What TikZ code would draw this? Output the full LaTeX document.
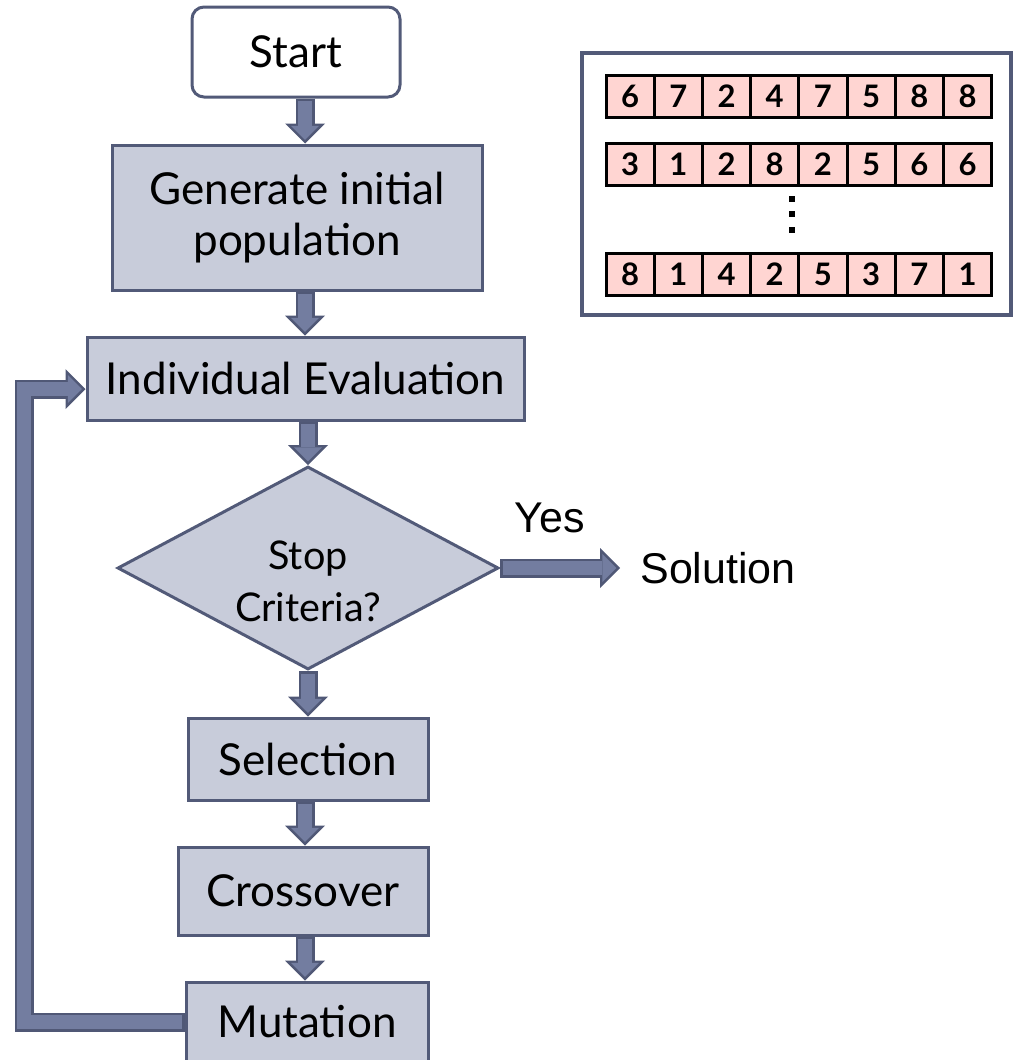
\documentclass[tikz,border=0pt]{standalone}
\usepackage{fontspec}
\setmainfont{Lato}
\newfontfamily\arialfont{Liberation Sans}
\usetikzlibrary{shapes.geometric,arrows.meta,backgrounds}

\definecolor{boxfill}{RGB}{200,204,218}
\definecolor{boxedge}{RGB}{82,90,120}
\definecolor{arrowfill}{RGB}{115,125,160}
\definecolor{arrowedge}{RGB}{80,88,118}
\definecolor{genefill}{RGB}{255,213,210}

\tikzset{
  stepbox/.style={draw=boxedge, fill=boxfill, line width=1.5pt, inner sep=0pt, align=center, font=\fontsize{22}{25.5}\selectfont},
  startbox/.style={stepbox, fill=white, rounded corners=6pt},
  testbox/.style={stepbox, diamond, aspect=1.88, font=\fontsize{19.8}{26}\selectfont},
  flowarrow/.style={draw=arrowedge, line width=9.5pt, line join=miter,
    -{Triangle[length=10pt, width=20pt, line width=0pt]},
    postaction={draw=arrowfill, line width=7pt, shorten >=1.77pt, shorten <=1.25pt,
      -{Triangle[length=7pt, width=14pt, line width=0pt]}}},
  gene/.style={draw=black, fill=genefill, line width=1.5pt, minimum width=24.1pt, minimum height=21pt, inner sep=0pt, font=\fontsize{15.5}{15.5}\selectfont\bfseries},
  plain/.style={font=\arialfont\fontsize{21.5}{24}\selectfont}
}

\begin{document}
\begin{tikzpicture}[x=0.5pt, y=-0.5pt]
  \useasboundingbox (0,0) rectangle (1013,1060);

  % flow chart
  \node[startbox, minimum width=104pt, minimum height=45pt] (start) at (296,52) {Start};
  \node[stepbox, minimum width=185pt, minimum height=72.5pt] (init) at (297,217.5) {Generate initial\\population};
  \node[stepbox, minimum width=218.5pt, minimum height=41.5pt] (eval) at (305.5,378.5) {Individual Evaluation};
  \node[testbox, minimum width=190.5pt, minimum height=101.5pt] (stop) at (308,568) {\rule{0pt}{28pt}Stop\\Criteria?};
  \node[stepbox, minimum width=120pt, minimum height=41pt] (select) at (308,759) {Selection};
  \node[stepbox, minimum width=125pt, minimum height=44pt] (cross) at (303,891) {Crossover};
  \node[stepbox, minimum width=121pt, minimum height=40pt] (mutate) at (307,1022) {Mutation};

  \node[plain] (yes) at (550,518) {Yes};
  \node[plain, anchor=west, inner xsep=10pt] (sol) at (620,568) {Solution};

  \coordinate (spine) at (305,0);
  \coordinate (back) at (24,0);
  \coordinate (evalin) at ([yshift=-5.25pt]eval.west);

  \begin{scope}[on background layer]
    \draw[flowarrow] (start.south -| spine) -- (init.north -| spine);
    \draw[flowarrow] (init.south -| spine) -- (eval.north -| spine);
    \draw[flowarrow] (eval.south -| stop.north) -- (stop.north);
    \draw[flowarrow] (stop.south) -- (select.north);
    \draw[flowarrow] (select.south -| spine) -- (cross.north -| spine);
    \draw[flowarrow] (cross.south -| spine) -- (mutate.north -| spine);
    \draw[flowarrow] (stop.east) -- (sol.west);
    \draw[flowarrow] (mutate.west) -| (back |- evalin) -- (evalin);
  \end{scope}

  % population
  \draw[draw=boxedge, line width=1.8pt] (582,53) rectangle (1011,315);
  \foreach \row/\ypos/\genes in {1/96/{6,7,2,4,7,5,8,8}, 2/164/{3,1,2,8,2,5,6,6}, 3/274.5/{8,1,4,2,5,3,7,1}} {
    \foreach \g [count=\i] in \genes {
      \node[gene] (gene-\row-\i) at (606+48.2*\i-24.1, \ypos) {\g};
    }
  }
  \foreach \d in {199,214,230}
    \fill (789,\d-3) rectangle ++(6,6);

\end{tikzpicture}
\end{document}
